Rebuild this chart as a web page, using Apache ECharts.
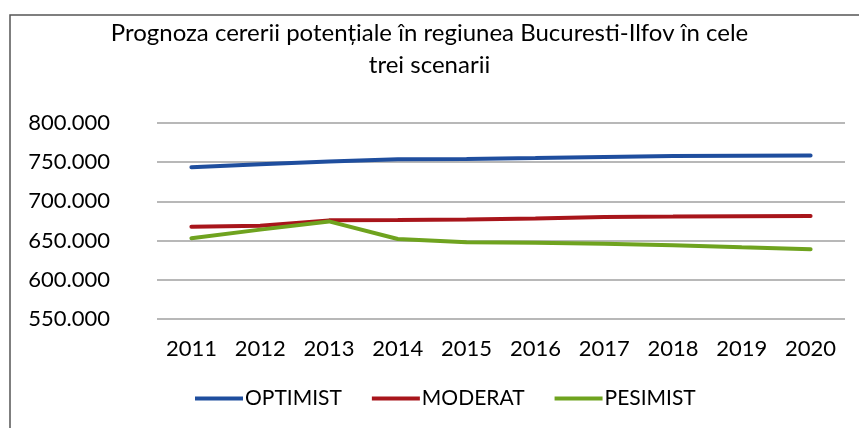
<!DOCTYPE html>
<html>
<head>
<meta charset="utf-8">
<script src="https://cdn.jsdelivr.net/npm/echarts@6/dist/echarts.min.js"></script>
<style>
  html, body { margin: 0; padding: 0; background: #fff; }
  #chart { width: 859px; height: 428px; }
</style>
</head>
<body>
<div id="chart"></div>
<script>
const years = ['2011', '2012', '2013', '2014', '2015', '2016', '2017', '2018', '2019', '2020']
const optimist = [743600, 747500, 751000, 753800, 754200, 755200, 756700, 757800, 758200, 758400]
const moderat = [667600, 669000, 675800, 676200, 676800, 678200, 680200, 680600, 681200, 681400]
const pesimist = [653000, 664000, 674500, 652000, 648000, 647200, 646000, 644200, 641500, 639000]
const yTicks = { min: 550000, max: 800000, step: 50000 }

const font = 'Lato'

let chart = echarts.init(document.getElementById('chart'), null, { renderer: 'canvas' })

chart.setOption({
  backgroundColor: '#fff',
  textStyle: { fontFamily: font, color: '#000' },
  animation: false,
  title: {
    text: 'Prognoza cererii potențiale în regiunea Bucuresti-Ilfov în cele\ntrei scenarii',
    left: 'center',
    top: 17,
    padding: 0,
    textStyle: {
      fontFamily: font,
      fontSize: 24,
      fontWeight: 'normal',
      color: '#000',
      lineHeight: 32
    }
  },
  graphic: [{
    // outer frame, runs off the right and bottom edges
    type: 'rect',
    shape: { x: 10, y: 15, width: 900, height: 500 },
    style: { fill: 'none', stroke: '#555', lineWidth: 1.5 },
    silent: true
  }],
  legend: {
    data: ['OPTIMIST', 'MODERAT', 'PESIMIST'],
    left: 195,
    top: 388,
    padding: 0,
    itemWidth: 48,
    itemHeight: 4,
    itemGap: 30,
    icon: 'rect',
    textStyle: { fontFamily: font, fontSize: 21, color: '#000', padding: [0, 0, 0, -3] }
  },
  grid: {
    left: 157,
    right: 14,
    top: 123,
    height: 196
  },
  xAxis: {
    type: 'category',
    data: years,
    boundaryGap: true,
    axisLine: { show: false },
    axisTick: { show: false },
    axisLabel: { fontFamily: font, fontSize: 22, color: '#000', margin: 19 }
  },
  yAxis: {
    type: 'value',
    min: yTicks.min,
    max: yTicks.max,
    interval: yTicks.step,
    axisLine: { show: false },
    axisTick: { show: false },
    splitLine: { lineStyle: { color: '#a0a0a0', width: 1.5 } },
    axisLabel: {
      fontFamily: font,
      fontSize: 22,
      color: '#000',
      margin: 47,
      formatter: v => String(v).replace(/\B(?=(\d{3})+(?!\d))/g, '.')
    }
  },
  series: [
    {
      name: 'OPTIMIST',
      type: 'line',
      data: optimist,
      symbol: 'none',
      color: '#1f4e9e',
      lineStyle: { width: 4, cap: 'round' }
    },
    {
      name: 'MODERAT',
      type: 'line',
      data: moderat,
      symbol: 'none',
      color: '#a8151b',
      lineStyle: { width: 4, cap: 'round' }
    },
    {
      name: 'PESIMIST',
      type: 'line',
      data: pesimist,
      symbol: 'none',
      color: '#6fa31f',
      lineStyle: { width: 4, cap: 'round' }
    }
  ]
})
</script>
</body>
</html>
